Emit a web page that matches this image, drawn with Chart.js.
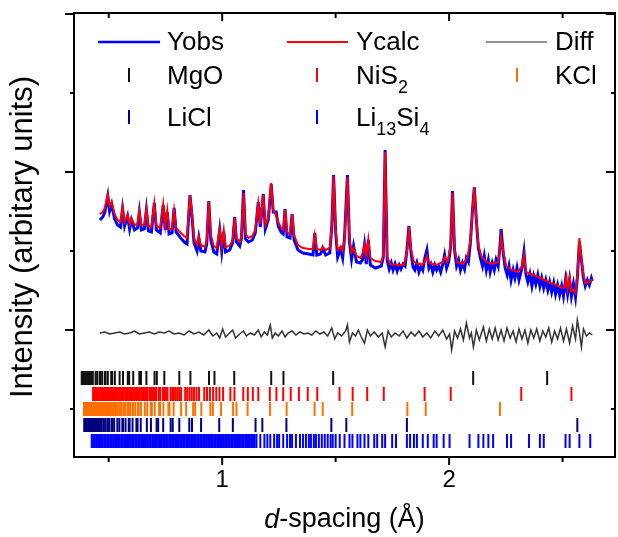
<!DOCTYPE html>
<html>
<head>
<meta charset="utf-8">
<script src="https://cdn.jsdelivr.net/npm/chart.js@4.4.1/dist/chart.umd.min.js"></script>
<style>
  html, body { margin: 0; padding: 0; background: #fff; overflow: hidden; }
  #wrap { width: 624px; height: 537px; }
</style>
</head>
<body>
<div id="wrap"><canvas id="xrd" width="624" height="537"></canvas></div>
<script>
// d-spacing (Å) and intensity (arbitrary units)
const calcD = [0.461,0.474,0.483,0.496,0.504,0.513,0.526,0.539,0.552,0.561,0.570,0.583,0.592,0.600,0.614,0.627,0.635,0.644,0.657,0.666,
  0.675,0.688,0.701,0.710,0.727,0.740,0.749,0.758,0.766,0.779,0.788,0.797,0.814,0.832,0.845,0.858,0.867,0.876,0.889,0.897,
  0.906,0.924,0.932,0.941,0.950,0.963,0.976,0.989,0.998,1.007,1.015,1.033,1.046,1.055,1.063,1.077,1.085,1.094,1.103,1.116,
  1.133,1.146,1.159,1.168,1.181,1.190,1.203,1.216,1.225,1.238,1.247,1.260,1.269,1.277,1.286,1.299,1.308,1.317,1.334,1.356,
  1.382,1.400,1.408,1.417,1.434,1.443,1.456,1.474,1.483,1.491,1.500,1.509,1.522,1.531,1.539,1.552,1.561,1.570,1.579,1.592,
  1.609,1.618,1.627,1.635,1.644,1.653,1.675,1.701,1.710,1.718,1.727,1.740,1.771,1.801,1.814,1.823,1.832,1.845,1.880,1.893,
  1.902,1.911,1.945,1.972,1.980,1.993,2.007,2.015,2.024,2.037,2.063,2.081,2.094,2.103,2.111,2.120,2.129,2.142,2.164,2.190,
  2.216,2.225,2.229,2.238,2.251,2.277,2.303,2.321,2.330,2.338,2.382,2.439,2.500,2.509,2.517,2.522,2.531,2.539,2.548,2.557,
  2.565,2.574,2.583,2.592,2.600,2.618,2.631];
const calcI = [116,118,122,136,124,128,116,110,108,123,108,115,106,112,105,106,119,105,105,121,
  104,103,127,104,102,126,104,120,101,101,120,102,98,94,92,135,117,92,85,93,
  85,83,90,128,95,84,82,101,84,100,83,84,90,112,92,88,94,137,96,92,
  94,100,127,106,135,105,112,147,120,114,108,102,100,120,98,96,116,95,85,82,
  81,81,95,81,80,83,80,82,105,154,100,80,83,79,90,153,90,78,82,74,
  72,76,85,74,91,72,69,68,75,178,73,66,65,65,78,103,80,68,65,68,
  74,67,65,68,73,68,85,137,80,68,66,73,90,118,143,112,85,74,68,66,
  68,82,93,80,64,60,58,64,75,58,54,48,42,43,53,41,53,39,40,37,
  55,92,72,55,47,48,51];

const obsD = [0.461,0.474,0.483,0.496,0.504,0.513,0.526,0.539,0.552,0.561,0.570,0.583,0.592,0.600,0.614,0.627,0.635,0.644,0.657,0.666,
  0.675,0.688,0.701,0.710,0.727,0.740,0.749,0.758,0.766,0.779,0.788,0.797,0.814,0.832,0.845,0.858,0.867,0.876,0.889,0.897,
  0.906,0.924,0.932,0.941,0.950,0.963,0.976,0.989,0.998,1.007,1.015,1.033,1.046,1.055,1.063,1.077,1.085,1.094,1.103,1.116,
  1.133,1.146,1.159,1.168,1.181,1.190,1.203,1.216,1.225,1.238,1.247,1.260,1.269,1.277,1.286,1.299,1.308,1.317,1.334,1.356,
  1.382,1.400,1.408,1.417,1.434,1.443,1.456,1.474,1.483,1.491,1.500,1.509,1.522,1.531,1.539,1.552,1.561,1.570,1.579,1.592,
  1.609,1.618,1.627,1.635,1.644,1.653,1.675,1.701,1.710,1.718,
  1.727,1.736,1.745,1.753,1.762,1.771,1.780,1.788,1.797,1.806,1.814,1.823,1.832,1.841,1.849,1.858,1.867,1.876,1.884,1.893,
  1.902,1.911,1.919,1.928,1.937,1.945,1.954,1.963,1.972,1.980,1.989,1.998,2.007,2.015,2.024,2.033,2.042,2.050,2.059,2.068,
  2.076,2.085,2.094,2.103,2.111,2.120,2.129,2.138,2.147,2.155,2.164,2.173,2.181,2.190,2.199,2.207,2.216,2.225,2.229,2.238,
  2.247,2.256,2.264,2.273,2.282,2.290,2.299,2.308,2.321,2.330,2.338,2.347,2.356,2.365,2.373,2.382,2.391,2.400,2.408,2.417,
  2.426,2.435,2.443,2.452,2.461,2.469,2.478,2.487,2.496,2.504,2.513,2.522,2.531,2.539,2.548,2.557,2.565,2.574,2.583,2.592,
  2.600,2.609,2.618,2.627,2.631];
const obsI = [110,113,118,134,119,126,111,105,103,121,104,114,101,110,100,102,118,100,101,120,
  99,98,127,100,97,125,100,118,96,97,122,98,93,88,86,135,114,87,79,92,
  79,78,86,129,90,78,76,100,79,98,78,80,87,113,88,84,92,140,91,88,
  90,97,128,103,136,101,110,146,118,118,104,98,96,121,93,92,116,90,80,77,
  76,75,97,75,76,82,75,77,103,155,98,73,81,72,92,155,88,71,84,68,
  67,70,85,66,90,65,62,64,73,180,
  70,61,67,60,66,59,65,61,66,64,80,104,78,63,60,67,58,64,60,72,
  80,62,66,58,65,60,64,58,66,75,62,68,84,139,80,64,70,60,67,61,
  72,68,88,120,143,110,82,72,64,74,60,70,58,67,60,70,64,86,101,78,
  62,55,64,50,60,52,62,50,62,78,56,48,56,44,54,46,55,44,52,42,
  50,40,48,38,47,36,45,35,44,34,50,36,50,34,46,33,52,88,70,52,
  44,50,45,52,49];

const diffD = [0.461,0.483,0.504,0.526,0.548,0.570,0.592,0.614,0.635,0.657,0.679,0.701,0.723,0.745,0.766,0.788,0.810,0.832,0.854,0.876,
  0.897,0.919,0.941,0.959,0.976,0.989,1.002,1.015,1.033,1.046,1.059,1.077,1.094,1.107,1.124,1.142,1.159,1.172,1.186,1.199,
  1.212,1.221,1.234,1.247,1.264,1.277,1.290,1.308,1.325,1.343,1.360,1.378,1.395,1.413,1.430,1.448,1.465,1.483,1.496,1.509,
  1.526,1.544,1.552,1.561,1.574,1.587,1.600,1.613,1.627,1.640,1.653,1.670,1.688,1.705,1.718,1.731,1.745,1.762,1.780,1.797,
  1.814,1.832,1.849,1.867,1.884,1.902,1.919,1.937,1.954,1.972,1.989,2.002,2.011,2.024,2.037,2.050,2.063,2.076,2.090,2.098,
  2.107,2.120,2.133,2.151,2.164,2.177,2.190,2.203,2.216,2.229,2.242,2.255,2.269,2.282,2.295,2.308,2.321,2.334,2.347,2.360,
  2.373,2.386,2.400,2.413,2.426,2.439,2.452,2.465,2.478,2.491,2.504,2.517,2.531,2.544,2.557,2.565,2.574,2.583,2.592,2.605,
  2.618,2.631];
const diffI = [-3,-2,-4,-3,-2,-4,-3,-1,-4,-3,-2,-4,-2,-3,-1,-4,-3,-5,-1,-4,
  -2,-5,0,-6,-3,-8,1,-7,-3,0,-8,-4,-1,-6,-3,-5,0,-7,-2,-5,
  5,-8,-3,-6,-1,-7,-3,-1,-5,-2,-4,-3,-5,-1,-4,-2,-6,2,-9,-3,
  -6,-1,5,-12,-3,-6,0,-7,-13,0,-6,-2,-7,-3,-17,-1,-7,-3,-6,-1,
  -8,-2,-6,-1,-7,-3,-8,-1,-6,0,-9,-4,-20,-1,-8,1,-10,7,-8,-3,
  -17,0,-10,3,-11,1,-9,2,-10,0,-11,2,-8,-1,-12,1,-9,0,-13,0,
  -8,1,-11,-1,-7,2,-12,-1,-9,2,-11,1,-13,4,-9,10,-2,-17,1,-6,
  -3,-5];

// reflection positions (d, Å) for each phase
const mgoD = [2.432,2.106,1.489,1.270,1.216,1.053,0.966,0.942,0.860,0.811,0.745,0.712,0.702,0.666,0.642,0.635,0.608,0.590,0.584,0.563,
  0.548,0.527,0.515,0.511,0.496,0.486,0.483,0.471,0.462,0.460,0.449,0.442,0.430,0.423,0.421,0.413,0.407,0.405,0.398,0.393,0.391,0.385,0.381];
const nis2D = [2.539,2.318,2.007,1.892,1.712,1.639,1.575,1.517,1.419,1.377,1.338,1.302,1.269,1.239,1.210,1.159,1.135,1.113,1.093,1.054,
  1.036,1.004,0.988,0.974,0.960,0.946,0.933,0.921,0.898,0.887,0.876,0.866,0.856,0.846,0.837,0.819,0.811,0.803,0.795,0.787,
  0.780,0.773,0.759,0.752,0.745,0.739,0.727,0.721,0.710,0.704,0.699,0.694,0.688,0.683,0.679,0.669,0.664,0.660,0.656,0.651,
  0.647,0.643,0.635,0.631,0.627,0.623,0.619,0.616,0.612,0.605,0.600,0.595,0.590,0.584,0.578,0.573,0.567,0.562,0.556,0.551,
  0.545,0.540,0.534,0.529,0.523,0.518,0.512,0.507,0.501,0.496,0.490,0.485,0.479,0.474,0.468,0.463,0.457,0.452,0.446,0.441,0.436,0.431];
const kclD = [2.224,1.897,1.816,1.573,1.443,1.407,1.284,1.211,1.112,1.063,1.048,0.995,0.959,0.948,0.908,0.881,0.872,0.841,0.819,0.786,
  0.768,0.763,0.741,0.726,0.722,0.703,0.690,0.686,0.670,0.659,0.642,0.632,0.629,0.617,0.608,0.605,0.594,0.587,0.584,0.574,
  0.567,0.565,0.556,0.550,0.547,0.539,0.534,0.532,0.524,0.519,0.517,0.510,0.505,0.497,0.493,0.491,0.485,0.481,0.480,0.474,
  0.470,0.469,0.464,0.460,0.454,0.450,0.449,0.445,0.441,0.440,0.436,0.433,0.432,0.428,0.425,0.424,0.420,0.417,0.413,0.410,
  0.409,0.406,0.404,0.403,0.399,0.397,0.396,0.393,0.391];
const liclD = [2.565,1.814,1.547,1.481,1.283,1.177,1.147,1.047,0.987,0.907,0.867,0.855,0.811,0.782,0.773,0.740,0.718,0.711,0.686,0.668,
  0.641,0.627,0.622,0.605,0.592,0.588,0.574,0.563,0.560,0.547,0.538,0.524,0.516,0.513,0.503,0.496,0.494,0.485,0.478,0.476,
  0.468,0.463,0.461,0.453,0.448,0.447,0.440,0.435,0.434,0.428,0.423,0.422,0.416,0.412,0.406,0.402,0.401,0.396,0.392];
const li13si4D = [0.425,0.432,0.439,0.446,0.453,0.459,0.466,0.473,0.480,0.487,0.494,0.500,0.507,0.514,0.521,0.528,0.535,0.541,0.548,0.555,
  0.562,0.569,0.576,0.582,0.589,0.596,0.603,0.610,0.617,0.623,0.630,0.637,0.644,0.651,0.658,0.664,0.671,0.678,0.685,0.692,
  0.699,0.705,0.712,0.719,0.726,0.733,0.740,0.746,0.753,0.760,0.767,0.774,0.781,0.787,0.794,0.801,0.808,0.815,0.822,0.828,
  0.835,0.842,0.849,0.856,0.863,0.869,0.876,0.883,0.890,0.897,0.904,0.910,0.917,0.924,0.931,0.938,0.945,0.951,0.958,0.965,
  0.972,0.979,0.986,0.992,0.999,1.006,1.013,1.020,1.027,1.033,1.040,1.047,1.054,1.061,1.068,1.074,1.081,1.088,1.095,1.102,
  1.109,1.115,1.122,1.129,1.136,1.143,1.151,1.168,1.186,1.199,1.212,1.229,1.242,1.251,1.269,1.286,1.299,1.308,1.325,1.343,
  1.356,1.369,1.382,1.391,1.404,1.413,1.426,1.439,1.452,1.465,1.478,1.487,1.500,1.518,1.539,1.561,1.574,1.596,1.609,1.627,
  1.644,1.670,1.683,1.705,1.718,1.749,1.766,1.814,1.828,1.845,1.858,1.884,1.906,1.932,1.945,1.976,2.002,2.090,2.129,2.151,
  2.173,2.194,2.255,2.273,2.352,2.400,2.417,2.513,2.531,2.574,2.622];

// vertical offset of each reflection row (same units as intensity)
const phaseNames = ['MgO', 'NiS2', 'KCl', 'LiCl', 'Li13Si4'];
const phaseD = [mgoD, nis2D, kclD, liclD, li13si4D];
const phaseLevel = [-48, -64, -79, -95, -111];
const phaseColors = ['#111111', '#ff0000', '#ff7000', '#000080', '#0000ff'];

const FONT = '"Liberation Sans", Arial, sans-serif';

function pts(xs, ys) {
  return xs.map((d, i) => ({ x: d, y: ys[i] }));
}

function line(ctx, x1, y1, x2, y2) {
  ctx.beginPath();
  ctx.moveTo(x1, y1);
  ctx.lineTo(x2, y2);
  ctx.stroke();
}

// text with optional subscripts: parts = [[text, isSub], ...]
function richText(ctx, parts, x, y, size) {
  parts.forEach(([s, sub]) => {
    ctx.font = (sub ? Math.round(size * 0.7) : size) + 'px ' + FONT;
    ctx.fillText(s, x, sub ? y + 9 : y);
    x += ctx.measureText(s).width;
  });
}

const legendItems = [
  { kind: 'line', color: '#0000ff', width: 2.5, parts: [['Yobs']], col: 0, row: 0 },
  { kind: 'line', color: '#ff0000', width: 2, parts: [['Ycalc']], col: 1, row: 0 },
  { kind: 'line', color: '#222222', width: 1, parts: [['Diff']], col: 2, row: 0 },
  { kind: 'tick', color: phaseColors[0], parts: [['MgO']], col: 0, row: 1 },
  { kind: 'tick', color: phaseColors[1], parts: [['NiS'], ['2', true]], col: 1, row: 1 },
  { kind: 'tick', color: phaseColors[2], parts: [['KCl']], col: 2, row: 1 },
  { kind: 'tick', color: phaseColors[3], parts: [['LiCl']], col: 0, row: 2 },
  { kind: 'tick', color: phaseColors[4], parts: [['Li'], ['13', true], ['Si'], ['4', true]], col: 1, row: 2 }
];

const decor = {
  id: 'decor',
  afterDraw(chart) {
    const { ctx, chartArea: a, scales: { x, y } } = chart;
    ctx.save();
    ctx.strokeStyle = '#000';
    ctx.fillStyle = '#000';
    ctx.lineWidth = 2;
    ctx.strokeRect(a.left, a.top, a.right - a.left, a.bottom - a.top);

    x.ticks.forEach(t => {
      const px = x.getPixelForValue(t.value);
      const len = Number.isInteger(t.value) ? 8 : 5;
      line(ctx, px, a.bottom, px, a.bottom + len);
      line(ctx, px, a.top, px, a.top + len);
    });
    y.ticks.forEach(t => {
      const py = y.getPixelForValue(t.value);
      const len = t.value % 158 === 0 ? 9 : 4;
      line(ctx, a.left - len, py, a.left, py);
      line(ctx, a.right - len, py, a.right, py);
    });

    // axis titles
    ctx.textBaseline = 'middle';
    ctx.textAlign = 'center';
    ctx.font = '31px ' + FONT;
    ctx.save();
    ctx.translate(23, (a.top + a.bottom) / 2 + 2);
    ctx.rotate(-Math.PI / 2);
    ctx.fillText('Intensity (arbitary units)', 0, 0);
    ctx.restore();

    ctx.textAlign = 'left';
    const cx = (a.left + a.right) / 2;
    ctx.font = 'italic 27px ' + FONT;
    const w1 = ctx.measureText('d').width;
    ctx.font = '27px ' + FONT;
    const w2 = ctx.measureText('-spacing (Å)').width;
    const x0 = cx - (w1 + w2) / 2;
    ctx.font = 'italic 27px ' + FONT;
    ctx.fillText('d', x0, 520);
    ctx.font = '27px ' + FONT;
    ctx.fillText('-spacing (Å)', x0 + w1, 520);

    // legend
    const markX = [129, 317, 517];
    const lineX = [[98, 160], [287, 348], [486, 547]];
    const textX = [167, 356, 555];
    const baseY = [50, 84, 126];
    ctx.textBaseline = 'alphabetic';
    legendItems.forEach(it => {
      const by = baseY[it.row];
      ctx.strokeStyle = it.color;
      if (it.kind === 'line') {
        ctx.lineWidth = it.width;
        line(ctx, lineX[it.col][0], by - 8, lineX[it.col][1], by - 8);
      } else {
        ctx.lineWidth = 2;
        line(ctx, markX[it.col], by - 16, markX[it.col], by - 2);
      }
      ctx.fillStyle = '#000';
      richText(ctx, it.parts, textX[it.col], by, 26);
    });
    ctx.restore();
  }
};

const datasets = [
  { label: 'Ycalc', data: pts(calcD, calcI), showLine: true, borderColor: '#ff0000', borderWidth: 2, pointRadius: 0, tension: 0 },
  { label: 'Yobs', data: pts(obsD, obsI), showLine: true, borderColor: '#0000ff', borderWidth: 3, pointRadius: 0, tension: 0 },
  { label: 'Diff', data: pts(diffD, diffI), showLine: true, borderColor: '#333333', borderWidth: 1.5, pointRadius: 0, tension: 0 }
];
phaseD.forEach((ds, i) => {
  datasets.push({
    label: phaseNames[i],
    data: ds.map(d => ({ x: d, y: phaseLevel[i] })),
    showLine: false,
    pointStyle: 'line',
    rotation: 90,
    pointRadius: 7,
    pointBorderWidth: 2,
    borderColor: phaseColors[i],
    backgroundColor: phaseColors[i]
  });
});

new Chart(document.getElementById('xrd'), {
  type: 'scatter',
  data: { datasets },
  options: {
    responsive: false,
    animation: false,
    layout: { padding: { top: 13, right: 4, left: 0, bottom: 0 } },
    plugins: { legend: { display: false }, tooltip: { enabled: false } },
    scales: {
      x: {
        type: 'linear', min: 0.347, max: 2.731,
        grid: { display: false }, border: { display: false },
        ticks: {
          stepSize: 0.5, includeBounds: false, autoSkip: false, maxRotation: 0, padding: 1,
          color: '#000', font: { size: 24, family: FONT },
          callback: v => Number.isInteger(v) ? v : ''
        },
        afterFit: s => { s.height = 80; }
      },
      y: {
        type: 'linear', min: -127, max: 317,
        grid: { display: false }, border: { display: false },
        ticks: { display: false, stepSize: 79, includeBounds: false },
        afterFit: s => { s.width = 74; }
      }
    }
  },
  plugins: [decor]
});
</script>
</body>
</html>
